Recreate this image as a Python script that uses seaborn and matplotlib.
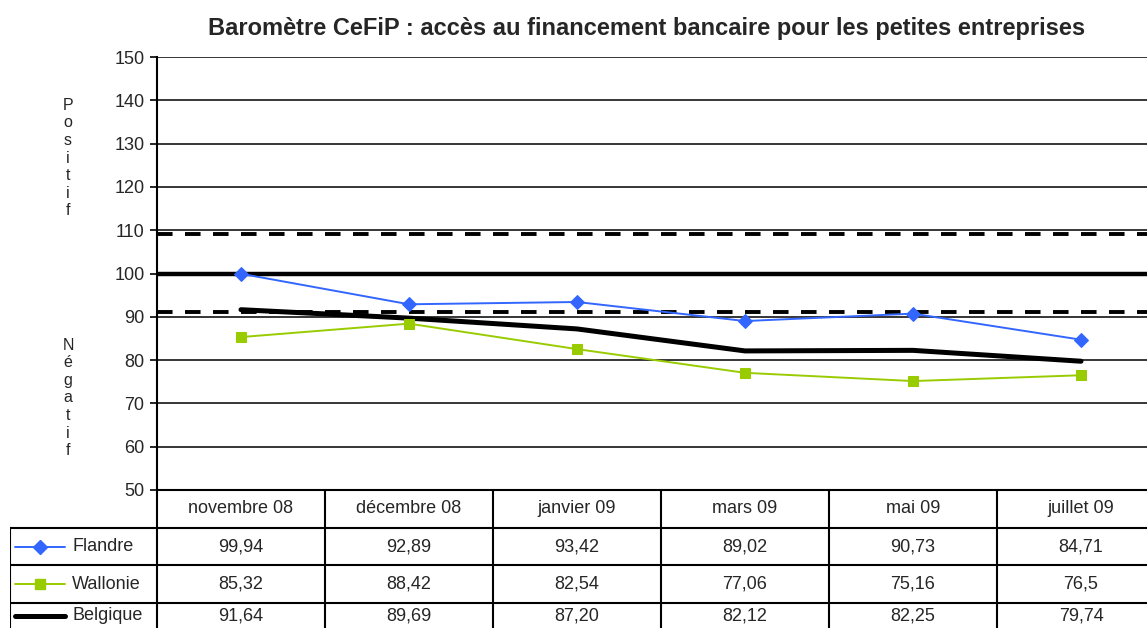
import numpy as np
import pandas as pd
import matplotlib.pyplot as plt
import seaborn as sns
from matplotlib.lines import Line2D

sns.set_style('white')
plt.rcParams['font.family'] = ['Liberation Sans', 'DejaVu Sans']

months = ['novembre 08', 'décembre 08', 'janvier 09', 'mars 09', 'mai 09', 'juillet 09']
flandre = [99.94, 92.89, 93.42, 89.02, 90.73, 84.71]
wallonie = [85.32, 88.42, 82.54, 77.06, 75.16, 76.5]
belgique = [91.64, 89.69, 87.20, 82.12, 82.25, 79.74]
flandre_txt = ['99,94', '92,89', '93,42', '89,02', '90,73', '84,71']
wallonie_txt = ['85,32', '88,42', '82,54', '77,06', '75,16', '76,5']
belgique_txt = ['91,64', '89,69', '87,20', '82,12', '82,25', '79,74']

ref_mid = 100
ref_high = 109.2
ref_low = 91.2

W, H = 1147, 628
fig = plt.figure(figsize=(W / 100, H / 100), dpi=100)

# pixel geometry of the excel-like layout
left_px, top_px, bottom_px = 157, 57, 490
col_px = 168
xmax = -0.5 + (W - left_px) / col_px

ax = fig.add_axes([left_px / W, (H - bottom_px) / H, (W - left_px) / W, (bottom_px - top_px) / H])

df = pd.DataFrame({
    'pos': list(range(len(months))) * 3,
    'value': flandre + wallonie + belgique,
    'serie': ['Flandre'] * 6 + ['Wallonie'] * 6 + ['Belgique'] * 6,
})

colors = {'Flandre': '#3366ff', 'Wallonie': '#99cc00', 'Belgique': 'black'}

for y in range(50, 151, 10):
    ax.axhline(y, color='black', lw=1.1, zorder=1)
ax.axhline(ref_mid, color='black', lw=3.2, zorder=2)
for y in (ref_high, ref_low):
    ax.axhline(y, color='black', lw=2.8, dashes=(4.0, 3.2), zorder=2)

sns.lineplot(data=df[df.serie == 'Flandre'], x='pos', y='value', color=colors['Flandre'],
             lw=1.4, marker='D', markersize=7, markeredgecolor=colors['Flandre'], ax=ax, zorder=4)
sns.lineplot(data=df[df.serie == 'Wallonie'], x='pos', y='value', color=colors['Wallonie'],
             lw=1.4, marker='s', markersize=7.5, markeredgecolor=colors['Wallonie'], ax=ax, zorder=4)
sns.lineplot(data=df[df.serie == 'Belgique'], x='pos', y='value', color='black',
             lw=3.6, ax=ax, zorder=3)

ax.set_xlim(-0.5, xmax)
ax.set_ylim(50, 150)
ax.set_yticks(range(50, 151, 10))
ax.set_xticks([])
ax.set_xlabel('')
ax.set_ylabel('')
ax.tick_params(axis='y', direction='out', length=5, width=1.2, color='black',
               labelsize=13, pad=4, left=True)
for s in ['top', 'right']:
    ax.spines[s].set_visible(False)
ax.spines['left'].set_linewidth(1.5)
ax.spines['bottom'].set_linewidth(1.5)
ax.spines['left'].set_color('black')
ax.spines['bottom'].set_color('black')

fig.text(0.5 * (186 + 1108) / W, 1 - 28 / H,
         'Baromètre CeFiP : accès au financement bancaire pour les petites entreprises',
         ha='center', va='center', fontsize=17, fontweight='bold')

fig.text(68 / W, 1 - 158 / H, '\n'.join('Positif'), ha='center', va='center',
         fontsize=11.5, linespacing=1.22)
fig.text(68 / W, 1 - 398 / H, '\n'.join('Négatif'), ha='center', va='center',
         fontsize=11.5, linespacing=1.22)

# data table below the chart (the last row runs past the image edge, as in the source)
row_px = 37.7
tleft_px = 10
tab = fig.add_axes([tleft_px / W, 0, (W - tleft_px) / W, (H - bottom_px) / H])
tab.set_xlim(-0.5 - (left_px - tleft_px) / col_px, xmax)
tab.set_ylim((H - bottom_px) / row_px, 0)
tab.axis('off')
x0 = -0.5 - (left_px - tleft_px) / col_px

for k in range(len(months) + 1):
    tab.plot([-0.5 + k, -0.5 + k], [0, 4], color='black', lw=1.5, clip_on=False)
tab.plot([x0, x0], [1, 4], color='black', lw=1.5)
for r in (1, 2, 3):
    tab.plot([x0, xmax], [r, r], color='black', lw=1.5)

# text row centres; the last one is nudged up so it stays inside the picture
row_mid = [1.5, 2.5, 3.33]

for i, m in enumerate(months):
    tab.text(i, 0.5, m, ha='center', va='center', fontsize=13)
rows = [flandre_txt, wallonie_txt, belgique_txt]
for r, vals in enumerate(rows):
    for i, v in enumerate(vals):
        tab.text(i, row_mid[r], v, ha='center', va='center', fontsize=13)

def px(x):
    return -0.5 + (x - left_px) / col_px

names = ['Flandre', 'Wallonie', 'Belgique']
markers = ['D', 's', None]
widths = [1.4, 1.4, 3.6]
for r, (name, mk, lw) in enumerate(zip(names, markers, widths)):
    y = row_mid[r]
    tab.add_line(Line2D([px(15), px(65)], [y, y], color=colors[name], lw=lw))
    if mk:
        tab.plot([px(40)], [y], marker=mk, color=colors[name], markersize=7)
    tab.text(px(72), y, name, ha='left', va='center', fontsize=13)

fig.savefig('out.png', dpi=100)
